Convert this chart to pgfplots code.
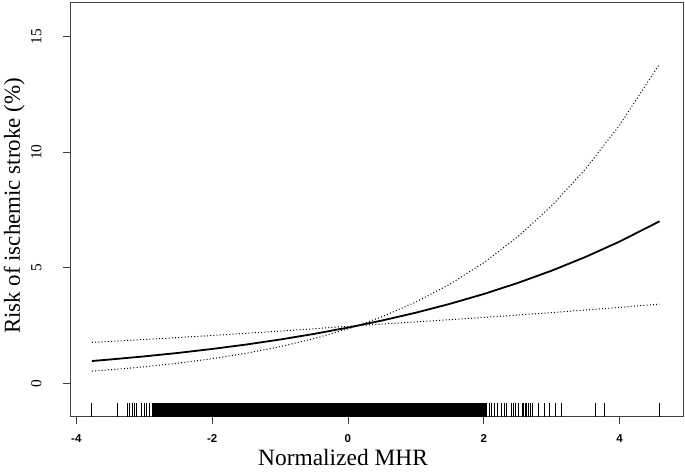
\documentclass[border=0pt]{standalone}
\usepackage{fontspec}
\setmainfont{Liberation Serif}
\newfontfamily\arialfont{Liberation Sans}
\usepackage{pgfplots}
\pgfplotsset{compat=1.18}
\usepackage{pgfplotstable}

\pgfplotstableread{
x fit lo up
-3.77 0.964 0.523 1.769
-3.5 1.030 0.583 1.812
-3 1.164 0.713 1.894
-2.5 1.314 0.871 1.979
-2 1.485 1.064 2.068
-1.5 1.676 1.299 2.162
-1 1.893 1.585 2.259
-0.5 2.136 1.933 2.360
0 2.410 2.355 2.466
0.15 2.499 2.499 2.499
0.5 2.715 2.562 2.877
1 3.055 2.655 3.513
1.5 3.436 2.751 4.284
2 3.863 2.850 5.216
2.5 4.340 2.953 6.336
3 4.873 3.059 7.678
3.5 5.468 3.169 9.276
4 6.132 3.283 11.166
4.59 7.010 3.423 13.820
}\curves

\pgfplotstableread{
x y
-3.775 -1.446
-3.40 -1.446
-3.25 -1.446
-3.22 -1.446
-3.18 -1.446
-3.15 -1.446
-3.12 -1.446
-3.04 -1.446
-3.00 -1.446
-2.97 -1.446
-2.92 -1.446
2.08 -1.446
2.11 -1.446
2.15 -1.446
2.20 -1.446
2.26 -1.446
2.30 -1.446
2.34 -1.446
2.40 -1.446
2.44 -1.446
2.47 -1.446
2.51 -1.446
2.57 -1.446
2.59 -1.446
2.61 -1.446
2.63 -1.446
2.65 -1.446
2.68 -1.446
2.71 -1.446
2.80 -1.446
2.90 -1.446
2.97 -1.446
3.05 -1.446
3.14 -1.446
3.65 -1.446
3.78 -1.446
4.59 -1.446
}\rug

\begin{document}
\begin{tikzpicture}
\begin{axis}[
  scale only axis, width=613bp, height=414.7bp,
  xmin=-4.093, xmax=4.935, ymin=-1.446, ymax=16.5,
  axis line style={black!75, line width=0.8bp},
  tick align=outside, major tick length=7bp,
  tick style={black!75, line width=0.8bp},
  xtick={-4,-2,0,2,4}, xticklabels={-4,-2,0,2,4},
  ytick={0,5,10,15}, yticklabels={0,5,10,15},
  xtick pos=left, ytick pos=left,
  xticklabel style={font=\arialfont\bfseries\fontsize{11.5}{13}\selectfont, yshift=-7.5bp},
  yticklabel style={font=\fontsize{15.5}{18}\selectfont, xshift=-21.5bp, rotate=90, anchor=base},
  xlabel={Normalized MHR},
  ylabel={Risk of ischemic stroke (\%)},
  xlabel style={font=\fontsize{23.5}{28}\selectfont, at={(axis description cs:0.4454,-0.118)}, anchor=base},
  ylabel style={font=\fontsize{23}{28}\selectfont, at={(axis description cs:-0.0816,0.508)}, anchor=base},
]
\addplot[fill=black, draw=none] coordinates {(-2.88,-1.446) (2.05,-1.446) (2.05,-0.866) (-2.88,-0.866)} -- cycle;
\addplot[draw=none, mark=none, forget plot,
  error bars/.cd, y dir=plus, y fixed=0.58, error mark=none,
  error bar style={black, line width=0.7bp}] table[x=x, y=y] {\rug};
\addplot[black, line width=1.8bp] table[x=x, y=fit] {\curves};
\addplot[black, line width=1bp, dash pattern=on 1bp off 2.2bp] table[x=x, y=lo] {\curves};
\addplot[black, line width=1bp, dash pattern=on 1bp off 2.2bp] table[x=x, y=up] {\curves};
\end{axis}
\pgfresetboundingbox
\path ([shift={(-70bp,-55.3bp)}]current axis.south west) rectangle ([shift={(2bp,2bp)}]current axis.north east);
\end{tikzpicture}
\end{document}
